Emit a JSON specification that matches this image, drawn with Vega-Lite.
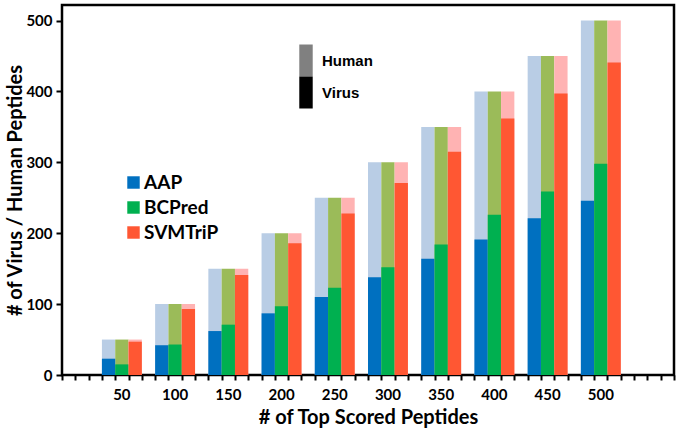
{
  "$schema": "https://vega.github.io/schema/vega-lite/v6.json",
  "width": 612,
  "height": 370,
  "autosize": "none",
  "padding": {"left": 62, "top": 5, "right": 7, "bottom": 58},
  "background": "white",
  "config": {
    "view": {"stroke": "black", "strokeWidth": 2.5},
    "font": "Lato"
  },
  "datasets": {
    "peptides": [
      {"top": 50, "method": "AAP", "virus": 23},
      {"top": 50, "method": "BCPred", "virus": 15},
      {"top": 50, "method": "SVMTriP", "virus": 47},
      {"top": 100, "method": "AAP", "virus": 42},
      {"top": 100, "method": "BCPred", "virus": 43},
      {"top": 100, "method": "SVMTriP", "virus": 93},
      {"top": 150, "method": "AAP", "virus": 62},
      {"top": 150, "method": "BCPred", "virus": 71},
      {"top": 150, "method": "SVMTriP", "virus": 141},
      {"top": 200, "method": "AAP", "virus": 87},
      {"top": 200, "method": "BCPred", "virus": 97},
      {"top": 200, "method": "SVMTriP", "virus": 186},
      {"top": 250, "method": "AAP", "virus": 110},
      {"top": 250, "method": "BCPred", "virus": 123},
      {"top": 250, "method": "SVMTriP", "virus": 228},
      {"top": 300, "method": "AAP", "virus": 138},
      {"top": 300, "method": "BCPred", "virus": 152},
      {"top": 300, "method": "SVMTriP", "virus": 271},
      {"top": 350, "method": "AAP", "virus": 164},
      {"top": 350, "method": "BCPred", "virus": 184},
      {"top": 350, "method": "SVMTriP", "virus": 315},
      {"top": 400, "method": "AAP", "virus": 191},
      {"top": 400, "method": "BCPred", "virus": 226},
      {"top": 400, "method": "SVMTriP", "virus": 362},
      {"top": 450, "method": "AAP", "virus": 221},
      {"top": 450, "method": "BCPred", "virus": 259},
      {"top": 450, "method": "SVMTriP", "virus": 397},
      {"top": 500, "method": "AAP", "virus": 246},
      {"top": 500, "method": "BCPred", "virus": 298},
      {"top": 500, "method": "SVMTriP", "virus": 441}
    ],
    "parts": [{"part": "Human"}, {"part": "Virus"}]
  },
  "layer": [
    {
      "data": {"name": "peptides"},
      "layer": [
        {
          "mark": {"type": "bar"},
          "encoding": {
            "x": {
              "field": "top", "type": "ordinal",
              "scale": {"paddingInner": 0.25, "paddingOuter": 0.875, "align": 0.4286},
              "axis": {"title": "# of Top Scored Peptides", "labelAngle": 0, "ticks": false, "tickSize": 0, "domain": false,
                "labelFont": "Lato", "labelFontSize": 15, "labelFontWeight": "bold", "labelColor": "black", "labelPadding": 12,
                "titleFont": "Lato", "titleFontSize": 20, "titleFontWeight": "bold", "titleColor": "black", "titlePadding": 5}
            },
            "xOffset": {"field": "method", "type": "nominal", "scale": {"domain": ["AAP", "BCPred", "SVMTriP"], "paddingInner": 0, "paddingOuter": 0}},
            "y": {
              "field": "top", "type": "quantitative", "stack": null,
              "scale": {"domain": [0, 522], "nice": false},
              "axis": {"title": "# of Virus / Human Peptides", "values": [0, 100, 200, 300, 400, 500], "grid": false, "domain": false,
                "tickColor": "black", "tickWidth": 2, "tickSize": 6, "labelPadding": 4,
                "labelFont": "Lato", "labelFontSize": 15, "labelFontWeight": "bold", "labelColor": "black",
                "titleFont": "Lato", "titleFontSize": 20, "titleFontWeight": "bold", "titleColor": "black", "titlePadding": 0}
            },
            "color": {"field": "method", "type": "nominal",
              "scale": {"domain": ["AAP", "BCPred", "SVMTriP"], "range": ["#B9CDE5", "#9BBB59", "#FFB3B3"]},
              "legend": null}
          }
        },
        {
          "mark": {"type": "bar"},
          "encoding": {
            "x": {
              "field": "top", "type": "ordinal",
              "scale": {"paddingInner": 0.25, "paddingOuter": 0.875, "align": 0.4286},
              "axis": {"title": "# of Top Scored Peptides", "labelAngle": 0, "ticks": false, "tickSize": 0, "domain": false,
                "labelFont": "Lato", "labelFontSize": 15, "labelFontWeight": "bold", "labelColor": "black", "labelPadding": 12,
                "titleFont": "Lato", "titleFontSize": 20, "titleFontWeight": "bold", "titleColor": "black", "titlePadding": 5}
            },
            "xOffset": {"field": "method", "type": "nominal", "scale": {"domain": ["AAP", "BCPred", "SVMTriP"], "paddingInner": 0, "paddingOuter": 0}},
            "y": {
              "field": "virus", "type": "quantitative", "stack": null,
              "scale": {"domain": [0, 522], "nice": false},
              "axis": {"title": "# of Virus / Human Peptides", "values": [0, 100, 200, 300, 400, 500], "grid": false, "domain": false,
                "tickColor": "black", "tickWidth": 2, "tickSize": 6, "labelPadding": 4,
                "labelFont": "Lato", "labelFontSize": 15, "labelFontWeight": "bold", "labelColor": "black",
                "titleFont": "Lato", "titleFontSize": 20, "titleFontWeight": "bold", "titleColor": "black", "titlePadding": 0}
            },
            "color": {"field": "method", "type": "nominal",
              "scale": {"domain": ["AAP", "BCPred", "SVMTriP"], "range": ["#0070C0", "#00B050", "#FF5733"]},
              "legend": {"orient": "none", "legendX": 62, "legendY": 168, "title": null, "direction": "vertical",
                "symbolType": "square", "symbolSize": 155, "symbolStrokeWidth": 0, "symbolOpacity": 1,
                "labelFont": "Lato", "labelFontSize": 19, "labelFontWeight": "bold", "labelColor": "black",
                "labelOffset": 1, "rowPadding": 5}}
          }
        }
      ],
      "resolve": {"scale": {"color": "independent"}}
    },
    {
      "data": {"name": "peptides"},
      "mark": {"type": "rule", "opacity": 0},
      "encoding": {
        "x": {
          "field": "top", "type": "quantitative",
          "scale": {"domain": [-6.25, 568.75], "nice": false, "zero": false},
          "axis": {"orient": "bottom", "title": null, "labels": false, "domain": false, "grid": false,
            "ticks": true, "tickSize": 5, "tickWidth": 2, "tickColor": "black",
            "values": [-6.25, 6.25, 18.75, 31.25, 43.75, 56.25, 68.75, 81.25, 93.75, 106.25, 118.75, 131.25, 143.75, 156.25, 168.75, 181.25, 193.75, 206.25, 218.75, 231.25, 243.75, 256.25, 268.75, 281.25, 293.75, 306.25, 318.75, 331.25, 343.75, 356.25, 368.75, 381.25, 393.75, 406.25, 418.75, 431.25, 443.75, 456.25, 468.75, 481.25, 493.75, 506.25, 518.75, 531.25, 543.75, 556.25, 568.75]}
        }
      }
    },
    {
      "data": {"name": "parts"},
      "mark": {"type": "square", "opacity": 0},
      "encoding": {
        "fill": {"field": "part", "type": "nominal",
          "scale": {"domain": ["Human", "Virus"], "range": ["#808080", "#000000"]},
          "legend": {"orient": "none", "legendX": 228, "legendY": 39.5, "title": null, "direction": "vertical",
            "symbolType": "M-0.42,-1H0.42V1H-0.42Z", "symbolSize": 1024, "symbolStrokeWidth": 0, "symbolOpacity": 1,
            "labelFont": "Liberation Sans", "labelFontSize": 15, "labelFontWeight": "bold", "labelColor": "black",
            "labelOffset": 0, "rowPadding": 0}}
      }
    }
  ],
  "resolve": {"scale": {"x": "independent"}}
}
